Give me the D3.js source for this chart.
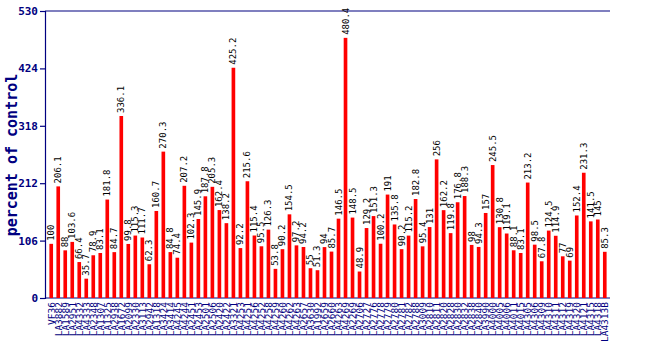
<!DOCTYPE html>
<html><head><meta charset="utf-8">
<script src="https://cdn.jsdelivr.net/npm/d3@7"></script>
<style>body{margin:0;background:#fff}</style>
</head><body>
<svg id="c" width="650" height="350"></svg>
<script>
const categories = ["VF36","LA3882","LA1589","LA2951","LA4332","LA4333","LA2348","LA1307","LA1325","LA2938",
"LA1672","LA2099","LA2330","LA3113","LA2942","LA1318","LA3424","LA3414","LA4245","LA4244",
"LA2451","LA2453","LA2501","LA2506","LA2420","LA2422","LA3321","LA4253","LA4251","LA4256",
"LA4252","LA4258","LA4259","LA4260","LA4262","LA4263","LA2657","LA3630","LA1992","LA2659",
"LA2660","LA4263","LA4269","LA2269","LA2706","LA2727","LA2776","LA2778","LA2779","LA2780",
"LA2781","LA2782","LA2788","LA3009","LA2810","LA2811","LA2820","LA2828","LA2830","LA2832",
"LA2838","LA2840","LA3990","LA4000","LA4005","LA4006","LA4011","LA4015","LA4305","LA4306",
"LA4309","LA4310","LA4311","LA4312","LA4319","LA4320","LA4121","LA4315","LA4318","LA4313B"];
const values = [100,206.1,88,103.6,66.4,35.7,78.9,83.1,181.8,84.7,
336.1,99.8,115.3,111.7,62.3,160.7,270.3,84.8,74.4,207.2,
102.3,145.9,187.8,205.3,162.4,138.2,425.2,92.2,215.6,115.4,
95.5,126.3,53.8,90.2,154.5,97.2,94.2,55,51.3,94,
85.7,146.5,480.4,148.5,48.9,129.2,151.3,100.2,191,135.8,
90.2,115.2,182.8,95.4,131,256,162.2,119.8,176.8,188.3,
98,94.3,157,245.5,130.8,119.1,88.1,83.1,213.2,98.5,
67.8,124.5,114.9,77,69,152.4,231.3,141.5,145,85.3];
const yTicks = [0,106,212,318,424,530];

const svg = d3.select("#c");
const navy = "#000080";
const x = d3.scaleBand().domain(d3.range(values.length)).range([48,608]).paddingInner(0.48).paddingOuter(0.2);
const y = d3.scaleLinear().domain([0,530]).range([298,11]);

svg.append("line").attr("x1",45).attr("x2",610).attr("y1",y(530)).attr("y2",y(530)).attr("stroke",navy).attr("stroke-width",1.2);
svg.append("line").attr("x1",45).attr("x2",610).attr("y1",y(0)).attr("y2",y(0)).attr("stroke",navy).attr("stroke-width",1.2);

svg.selectAll("rect.b").data(values).enter().append("rect")
  .attr("x",(d,i)=>x(i)).attr("width",x.bandwidth())
  .attr("y",d=>y(d)).attr("height",d=>y(0)-y(d)).attr("fill","#ff0000");

svg.selectAll("text.v").data(values).enter().append("text")
  .attr("transform",(d,i)=>`translate(${x(i)+x.bandwidth()/2+3},${y(d)-3}) rotate(-90)`)
  .attr("font-family","'DejaVu Sans Mono',monospace").attr("font-size",9)
  .attr("fill","#000").text(d=>d);

const ya = d3.axisLeft(y).tickValues(yTicks).tickSize(5).tickFormat(d3.format("d"));
const g = svg.append("g").attr("transform","translate(45,0)").call(ya);
g.select(".domain").attr("stroke",navy).attr("stroke-width",1.2);
g.selectAll(".tick line").attr("stroke",navy).attr("stroke-width",1.2);
g.selectAll(".tick text").attr("fill",navy).attr("font-family","'DejaVu Sans Mono',monospace")
  .attr("font-weight","bold").attr("font-size",11).attr("x",-7);

svg.append("text").attr("transform","translate(17,155) rotate(-90)").attr("text-anchor","middle")
  .attr("font-family","'DejaVu Sans Mono',monospace").attr("font-size",15).attr("font-weight","bold").attr("fill",navy)
  .text("percent of control");

svg.selectAll("text.x").data(categories).enter().append("text")
  .attr("transform",(d,i)=>`translate(${x(i)+x.bandwidth()/2+3.5},${302}) rotate(-90)`)
  .attr("text-anchor","end")
  .attr("font-family","'DejaVu Sans Mono',monospace").attr("font-size",9.5).attr("fill",navy)
  .text(d=>d);
</script>
</body></html>
